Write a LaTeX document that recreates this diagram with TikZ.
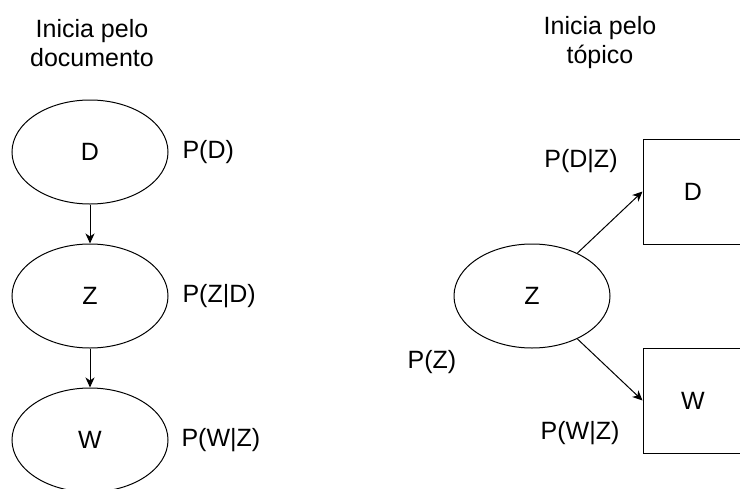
\documentclass[tikz,border=0pt]{standalone}
\usepackage{fontspec}
\setmainfont{Liberation Sans}
\usetikzlibrary{shapes.geometric,arrows.meta}
\tikzset{
    var/.style={draw,ellipse,minimum width=156pt,minimum height=104pt,inner sep=0pt},
    caixa/.style={draw,rectangle,minimum width=100pt,minimum height=105pt,inner sep=0pt},
    prob/.style={inner sep=0pt},
    seta/.style={-{Stealth[length=10pt,width=9pt,inset=3pt]}},
  }
\begin{document}
\begin{tikzpicture}[x=1pt,y=-1pt,line width=1pt,font=\fontsize{25}{29}\selectfont]
    %cadre de la figure
    \clip (0,0) rectangle (740,488);
    %modele : document -> topico -> palavra
    \node[align=center](titD) at (92,43) {Inicia pelo\\documento};
    \node[var](D) at (90,152) {D};
    \node[var](Z) at (90,296) {Z};
    \node[var](W) at (90,440) {W};
    \node[prob,anchor=west](pD) at (182,152) {P(D)};
    \node[prob,anchor=west](pZD) at (182,296) {P(Z|D)};
    \node[prob,anchor=west](pWZ) at (181,440) {P(W|Z)};
    \draw[seta] (D) -- (Z);
    \draw[seta] (Z) -- (W);
    %modele : topico -> (documento, palavra)
    \node[align=center](titZ) at (600,43) {Inicia pelo\\tópico};
    \node[var](Zt) at (532,296) {Z};
    \node[caixa](Dt) at (693,191.5) {D};
    \node[caixa](Wt) at (693,400.5) {W};
    \node[prob](pZ) at (432,362) {P(Z)};
    \node[prob](pDZ) at (581,161) {P(D|Z)};
    \node[prob](pWZt) at (580,433) {P(W|Z)};
    \draw[seta] (Zt) -- (Dt.west);
    \draw[seta] (Zt) -- (Wt.west);
\end{tikzpicture}
\end{document}
